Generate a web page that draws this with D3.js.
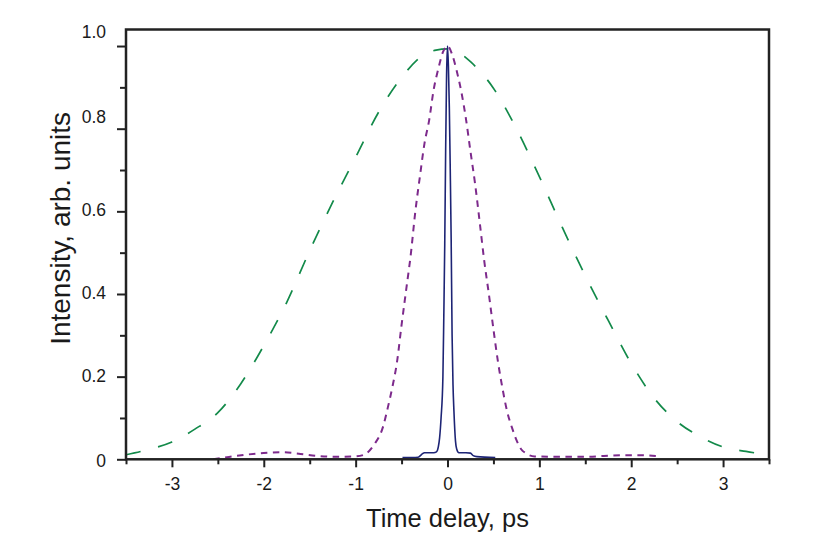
<!DOCTYPE html>
<html>
<head>
<meta charset="utf-8">
<script src="https://cdn.jsdelivr.net/npm/d3@7/dist/d3.min.js"></script>
<style>
  html, body { margin: 0; padding: 0; background: #fff; }
  svg { display: block; }
  text { font-family: "Liberation Sans", Arial, Helvetica, sans-serif; fill: #1a1a1a; }
</style>
</head>
<body>
<svg id="chart" width="837" height="556"></svg>
<script>
// ---- Data (time delay in ps, intensity in arb. units) ----
const wideT = [-3.5, -3.25, -3.0, -2.75, -2.5, -2.25, -2.0, -1.75, -1.5, -1.25, -1.0, -0.75, -0.5, -0.25, -0.125, 0,
               0.125, 0.25, 0.5, 0.75, 1.0, 1.25, 1.5, 1.75, 2.0, 2.25, 2.5, 2.75, 3.0, 3.25, 3.5];
const wideI = [0.011, 0.024, 0.042, 0.073, 0.113, 0.183, 0.275, 0.380, 0.505, 0.622, 0.731, 0.840, 0.924, 0.980, 0.990, 0.993,
               0.984, 0.962, 0.898, 0.800, 0.684, 0.561, 0.444, 0.336, 0.232, 0.148, 0.091, 0.055, 0.030, 0.019, 0.011];

const midT = [-2.55, -2.4, -2.2, -2.0, -1.8, -1.6, -1.4, -1.2, -1.0, -0.9, -0.8, -0.7, -0.65, -0.6, -0.55, -0.5, -0.45, -0.4,
              -0.35, -0.3, -0.25, -0.2, -0.15, -0.1, -0.05, 0, 0.05, 0.1, 0.15, 0.2, 0.25, 0.3, 0.35, 0.4, 0.45, 0.5,
              0.55, 0.6, 0.65, 0.7, 0.75, 0.8, 0.85, 0.95, 1.2, 1.5, 1.7, 1.9, 2.1, 2.32];
const midI = [0.0, 0.005, 0.011, 0.015, 0.017, 0.013, 0.008, 0.006, 0.007, 0.012, 0.035, 0.080, 0.125, 0.175, 0.235, 0.325, 0.41, 0.495,
              0.60, 0.685, 0.765, 0.82, 0.895, 0.945, 0.985, 1.0, 0.98, 0.94, 0.89, 0.825, 0.745, 0.667, 0.575, 0.48, 0.40, 0.315,
              0.235, 0.17, 0.115, 0.078, 0.047, 0.025, 0.015, 0.007, 0.006, 0.006, 0.008, 0.010, 0.010, 0.007];

const narrowT = [-0.49, -0.32, -0.28, -0.25, -0.15, -0.12, -0.1, -0.086, -0.07, -0.05, -0.04, -0.03, -0.02, -0.01, 0,
                 0.01, 0.02, 0.03, 0.04, 0.05, 0.06, 0.07, 0.087, 0.1, 0.124, 0.2, 0.25, 0.28, 0.32, 0.52];
const narrowI = [0.004, 0.005, 0.012, 0.016, 0.016, 0.018, 0.03, 0.052, 0.10, 0.20, 0.35, 0.52, 0.75, 0.93, 1.0,
                 0.95, 0.85, 0.70, 0.53, 0.30, 0.18, 0.117, 0.044, 0.025, 0.016, 0.016, 0.015, 0.009, 0.0065, 0.004];

const xTickLabels = [-3, -2, -1, 0, 1, 2, 3];
const xMinorTicks = [-3.5, -2.5, -1.5, -0.5, 0.5, 1.5, 2.5, 3.5];
const yTickLabels = [0, 0.2, 0.4, 0.6, 0.8, 1.0];
const yMinorTicks = [0.1, 0.3, 0.5, 0.7, 0.9];
const xTitle = "Time delay, ps";
const yTitle = "Intensity, arb. units";

(function () {
// ---- Layout ----
const svg = d3.select("#chart");
const pL = 126, pR = 769, pT = 29.5, pB = 459.3;
const x = d3.scaleLinear().domain([-3.5, 3.5]).range([pL, pR]);
const y = d3.scaleLinear().domain([0, 1.04]).range([pB, pT]);

const line = d3.line().x(d => x(d[0])).y(d => y(d[1])).curve(d3.curveMonotoneX);
const zip = (a, b) => a.map((v, i) => [v, b[i]]);

svg.append("clipPath").attr("id", "clip").append("rect")
  .attr("x", pL).attr("y", pT).attr("width", pR - pL).attr("height", pB - pT);
const plot = svg.append("g");

// Curves
plot.append("path").datum(zip(wideT, wideI))
  .attr("d", line).attr("fill", "none").attr("clip-path", "url(#clip)")
  .attr("stroke", "#138a4a").attr("stroke-width", 1.7).attr("stroke-dasharray", "15,18");

plot.append("path").datum(zip(midT, midI))
  .attr("d", line).attr("fill", "none").attr("clip-path", "url(#clip)")
  .attr("stroke", "#7d2a8c").attr("stroke-width", 2).attr("stroke-dasharray", "6.5,5.5");

plot.append("path").datum(zip(narrowT, narrowI))
  .attr("d", line).attr("fill", "none").attr("clip-path", "url(#clip)")
  .attr("stroke", "#1d2475").attr("stroke-width", 1.6);

// Axes
const xMajor = d3.axisBottom(x).tickValues(xTickLabels).tickSize(8).tickPadding(6)
  .tickFormat(d => String(d));
const xMin = d3.axisBottom(x).tickValues(xMinorTicks).tickSize(5).tickFormat("");
const yMajor = d3.axisLeft(y).tickValues(yTickLabels).tickSize(9).tickPadding(11)
  .tickFormat(d => d === 0 ? "0" : d3.format(".1f")(d));
const yMin = d3.axisLeft(y).tickValues(yMinorTicks).tickSize(6).tickFormat("");

function styleAxis(g) {
  g.select(".domain").remove();
  g.selectAll(".tick line").attr("stroke", "#222").attr("stroke-width", 2);
  g.selectAll(".tick text").attr("font-size", 17.5).attr("fill", "#1a1a1a")
    .attr("font-family", '"Liberation Sans", Arial, sans-serif');
}

svg.append("g").attr("transform", `translate(0,${pB})`).call(xMin).call(styleAxis);
const gx = svg.append("g").attr("transform", `translate(0,${pB})`).call(xMajor).call(styleAxis);
gx.selectAll(".tick text").attr("dy", "0.95em");

svg.append("g").attr("transform", `translate(${pL},0)`).call(yMin).call(styleAxis);
const gy = svg.append("g").attr("transform", `translate(${pL},0)`).call(yMajor).call(styleAxis);
gy.selectAll(".tick text")
  .attr("dy", d => d >= 1 ? "-0.5em" : d >= 0.8 ? "-0.35em" : d === 0 ? "0.42em" : "0.25em");

// Frame
svg.append("rect")
  .attr("x", pL).attr("y", pT).attr("width", pR - pL).attr("height", pB - pT)
  .attr("fill", "none").attr("stroke", "#222").attr("stroke-width", 2.5);

// Titles
svg.append("text")
  .attr("x", (pL + pR) / 2).attr("y", 527)
  .attr("text-anchor", "middle").attr("font-size", 25.5)
  .text(xTitle);

svg.append("text")
  .attr("transform", `translate(70,${(pT + pB) / 2 - 16}) rotate(-90)`)
  .attr("text-anchor", "middle").attr("font-size", 28)
  .text(yTitle);
})();
</script>
</body>
</html>
